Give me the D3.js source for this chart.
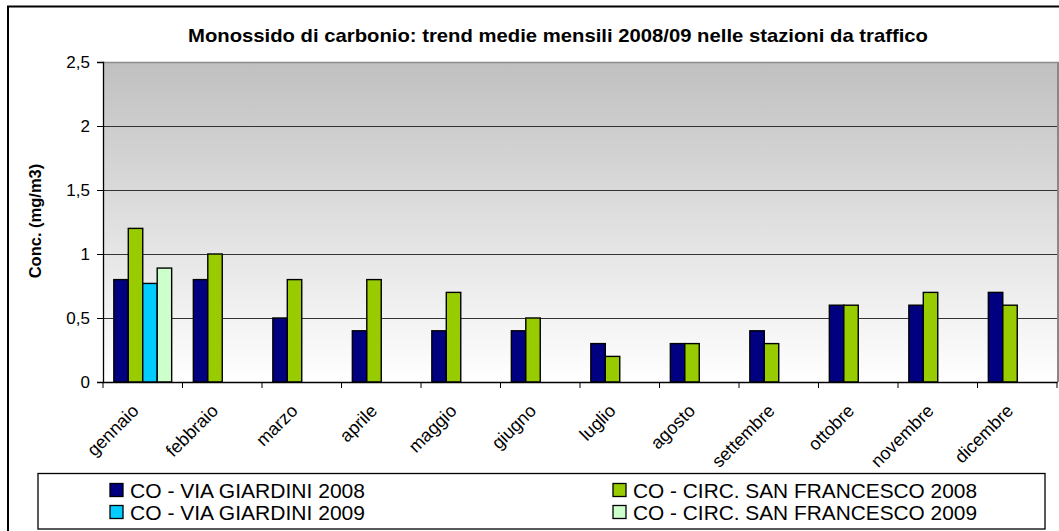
<!DOCTYPE html>
<html><head><meta charset="utf-8">
<script src="https://cdn.jsdelivr.net/npm/d3@7"></script>
<style>body{margin:0;background:#fff}svg{display:block;font-family:"Liberation Sans",Arial,sans-serif}</style>
</head><body>
<svg id="c" width="1059" height="531"></svg>
<script>
const months = ["gennaio","febbraio","marzo","aprile","maggio","giugno","luglio","agosto","settembre","ottobre","novembre","dicembre"];
const viaGiardini2008 = [0.8,0.8,0.5,0.4,0.4,0.4,0.3,0.3,0.4,0.6,0.6,0.7];
const circSanFrancesco2008 = [1.2,1.0,0.8,0.8,0.7,0.5,0.2,0.3,0.3,0.6,0.7,0.6];
const viaGiardini2009 = [0.77,null,null,null,null,null,null,null,null,null,null,null];
const circSanFrancesco2009 = [0.89,null,null,null,null,null,null,null,null,null,null,null];
const seriesNames = ["CO - VIA GIARDINI  2008","CO - CIRC. SAN FRANCESCO 2008","CO - VIA GIARDINI  2009","CO - CIRC. SAN FRANCESCO 2009"];
const seriesColors = ["#000080","#99CC00","#00CCFF","#CCFFCC"];
const yTicks = [0,0.5,1,1.5,2,2.5];
const yTickLabels = ["0","0,5","1","1,5","2","2,5"];
const title = "Monossido di carbonio: trend medie mensili 2008/09 nelle stazioni da traffico";
const yTitle = "Conc. (mg/m3)";

const seriesValues = [viaGiardini2008, circSanFrancesco2008, viaGiardini2009, circSanFrancesco2009];
const svg = d3.select("#c");
const L=103, R=1057, T=62, B=382;

// outer border
svg.append("rect").attr("x",8).attr("y",6.5).attr("width",1070).attr("height",540)
  .attr("fill","#fff").attr("stroke","#000").attr("stroke-width",2);

const x = d3.scaleBand().domain(months).range([L,R]).paddingInner(0).paddingOuter(0);
const xs = d3.scaleBand().domain(d3.range(4)).range([0,x.bandwidth()]).paddingInner(0).paddingOuter(0.75);
const y = d3.scaleLinear().domain([0,2.5]).range([B,T]);

const defs = svg.append("defs");
const g = defs.append("linearGradient").attr("id","bg").attr("x1",0).attr("y1",0).attr("x2",0).attr("y2",1);
g.append("stop").attr("offset","0%").attr("stop-color","#C0C0C0");
g.append("stop").attr("offset","100%").attr("stop-color","#FFFFFF");

// plot shadow and background
svg.append("rect").attr("x",R).attr("y",T).attr("width",2.5).attr("height",B-T).attr("fill","#888");
svg.append("rect").attr("x",L).attr("y",T).attr("width",R-L).attr("height",B-T).attr("fill","url(#bg)");
svg.append("line").attr("x1",L).attr("x2",R+2).attr("y1",T+0.5).attr("y2",T+0.5).attr("stroke","#8c8c8c").attr("stroke-width",1.5);

// gridlines
svg.append("g").selectAll("line").data(yTicks.filter(d=>d>0 && d<2.5)).join("line")
  .attr("x1",L).attr("x2",R).attr("y1",d=>Math.round(y(d))+0.5).attr("y2",d=>Math.round(y(d))+0.5)
  .attr("stroke","#333").attr("stroke-width",1);

// bars
const bars = svg.append("g");
seriesValues.forEach((vals,si)=>{
  bars.selectAll(null).data(months.map((m,i)=>({m,v:vals[i]})).filter(d=>d.v!=null)).join("rect")
    .attr("x",d=>x(d.m)+xs(si)).attr("width",xs.bandwidth())
    .attr("y",d=>y(d.v)).attr("height",d=>B-y(d.v))
    .attr("fill",seriesColors[si]).attr("stroke","#000").attr("stroke-width",1.4);
});

// y axis
const ya = d3.axisLeft(y).tickValues(yTicks).tickSize(6).tickFormat((d,i)=>yTickLabels[i]);
const yg = svg.append("g").attr("transform",`translate(${L},0)`).call(ya);
yg.select(".domain").attr("stroke","#000").attr("stroke-width",1.3);
yg.selectAll(".tick line").attr("stroke","#000");
yg.selectAll(".tick text").attr("font-size",17).attr("fill","#000").attr("x",-13)
  .attr("font-family","'Liberation Sans',Arial,sans-serif");

// x axis
const xa = d3.axisBottom(x).tickSize(0).tickFormat("");
const xg = svg.append("g").attr("transform",`translate(0,${B})`).call(xa);
xg.select(".domain").attr("stroke","#000").attr("stroke-width",1.5);
xg.selectAll(".tick").remove();
xg.selectAll(".bnd").data(d3.range(months.length+1)).join("line").attr("class","bnd")
  .attr("x1",i=>L+i*x.step()).attr("x2",i=>L+i*x.step()).attr("y1",0).attr("y2",6)
  .attr("stroke","#000").attr("stroke-width",1);
svg.append("g").selectAll("text").data(months).join("text")
  .attr("transform",d=>`translate(${x(d)+x.bandwidth()/2-3},${B+30}) rotate(-45)`)
  .attr("text-anchor","end").attr("font-size",18).attr("fill","#000").text(d=>d);

// title
svg.append("text").attr("x",558).attr("y",41.5).attr("text-anchor","middle")
  .attr("font-size",19).attr("font-weight","bold")
  .attr("textLength",740).attr("lengthAdjust","spacingAndGlyphs").text(title);

// y title
svg.append("text").attr("transform","translate(41,221) rotate(-90)").attr("text-anchor","middle")
  .attr("font-size",16.5).attr("font-weight","bold").text(yTitle);

// legend
svg.append("rect").attr("x",38).attr("y",473.5).attr("width",1007).attr("height",55.5)
  .attr("fill","#fff").attr("stroke","#000").attr("stroke-width",1.3);
const legPos = [[110,490],[613,490],[110,512],[613,512]];
const legLen = [235,344,235,344];
const lg = svg.append("g").selectAll("g").data(seriesNames).join("g")
  .attr("transform",(d,i)=>`translate(${legPos[i][0]},${legPos[i][1]})`);
lg.append("rect").attr("x",0).attr("y",-6.5).attr("width",13).attr("height",13)
  .attr("fill",(d,i)=>seriesColors[i]).attr("stroke","#000").attr("stroke-width",1.3);
lg.append("text").attr("x",20).attr("y",7.5).attr("font-size",20)
  .attr("textLength",(d,i)=>legLen[i]).attr("lengthAdjust","spacingAndGlyphs").text(d=>d);
</script>
</body></html>
